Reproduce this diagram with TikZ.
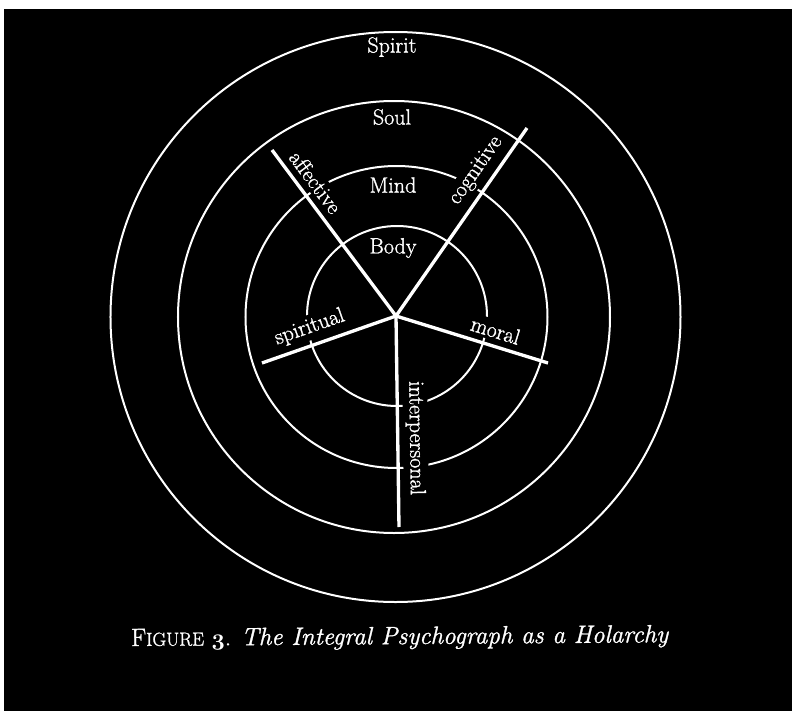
\documentclass[tikz,border=0pt]{standalone}
\usepackage{fontspec}
\setmainfont{Latin Modern Roman}[FakeBold=1.2]
\usepackage{tikz}
\usetikzlibrary{positioning,calc}

\begin{document}
\begin{tikzpicture}[
    x=0.75pt, y=0.75pt,
    ring/.style={draw=white, line width=1.5pt},
    spoke/.style={draw=white, line width=2.5pt},
    level/.style={text=white, font=\fontsize{16.5}{19}\selectfont},
    line label/.style={text=white, fill=black, inner sep=2pt, outer sep=4pt, font=\fontsize{16.5}{19}\selectfont, sloped, above}
]
    % scanned page
    \fill[white] (-396,-395) rectangle (396,316);
    \fill[black] (-392,-395) rectangle (396,307);
    \useasboundingbox (-396,-395) rectangle (396,316);

    \coordinate (hub) at (0,0);
    \draw[ring] (-0.5,-1) circle (285);
    \draw[ring] (-2,-1) circle (216);
    \draw[ring] (0.5,-1) circle (151);
    \draw[ring] (1,0) circle (90);

    \node[level] (spirit) at (-4,269) {Spirit};
    \node[level] (soul) at (-4,199) {Soul};
    \node[level] (mind) at (-3,131) {Mind};
    \node[level] (body) at (-3,68) {Body};

    \coordinate (affEnd) at (-124,166);
    \coordinate (cogEnd) at (131,188);
    \coordinate (spiEnd) at (-134,-47);
    \coordinate (morEnd) at (152,-47);
    \coordinate (intEnd) at (3,-211);

    \draw[spoke] (hub) -- (affEnd) node[line label, pos=0.75] (affective) {affective};
    \draw[spoke] (hub) -- (cogEnd) node[line label, pos=0.72] (cognitive) {cognitive};
    \draw[spoke] (hub) -- (spiEnd) node[line label, pos=0.60] (spiritual) {spiritual};
    \draw[spoke] (hub) -- (morEnd) node[line label, pos=0.625] (moral) {moral};
    \draw[spoke] (hub) -- (intEnd) node[line label, pos=0.58] (interpersonal) {interpersonal};

    \node[level, font=\fontsize{18.8}{22}\selectfont, rotate=0.4] (caption) at (4,-322)
        {F{\fontsize{14.2}{16}\selectfont IGURE} {\usefont{OML}{cmm}{b}{it}3}. \textit{The Integral Psychograph as a Holarchy}};
\end{tikzpicture}
\end{document}
